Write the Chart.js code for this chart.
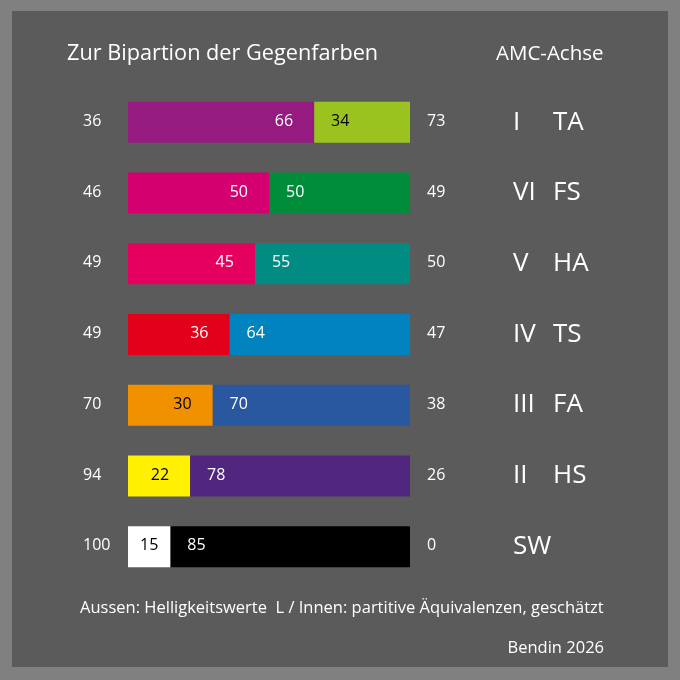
<!DOCTYPE html>
<html>
<head>
<meta charset="utf-8">
<title>Zur Bipartion der Gegenfarben</title>
<script src="https://cdn.jsdelivr.net/npm/chart.js@4.4.1/dist/chart.umd.min.js"></script>
<style>
  html, body { margin: 0; padding: 0; background: #808080; }
  canvas { display: block; }
</style>
</head>
<body>
<canvas id="bipartChart" width="680" height="680"></canvas>
<script>
// rows, top to bottom
const amcRoman = ["I", "VI", "V", "IV", "III", "II", ""];
const amcCode = ["TA", "FS", "HA", "TS", "FA", "HS", "SW"];

// outer values: lightness L
const lightLeft = [36, 46, 49, 49, 70, 94, 100];
const lightRight = [73, 49, 50, 47, 38, 26, 0];

// inner values: partitive equivalents (estimated)
const partLeft = [66, 50, 45, 36, 30, 22, 15];
const partRight = [34, 50, 55, 64, 70, 78, 85];

const colorsLeft = ["#951b81", "#d4006f", "#e5005f", "#e3001b", "#f29100", "#fff100", "#ffffff"];
const colorsRight = ["#9bc31f", "#008d3a", "#008c82", "#0083be", "#2a58a0", "#51267f", "#000000"];
const textLeft = ["#ffffff", "#ffffff", "#ffffff", "#ffffff", "#000000", "#000000", "#000000"];
const textRight = ["#000000", "#ffffff", "#ffffff", "#ffffff", "#ffffff", "#ffffff", "#ffffff"];

const FONT = "'Open Sans', 'Noto Sans', sans-serif";

function drawText(ctx, text, x, y, size, color, align) {
  ctx.font = size + "px " + FONT;
  ctx.fillStyle = color;
  ctx.textAlign = align || "left";
  ctx.textBaseline = "alphabetic";
  ctx.fillText(text, x, y);
}

// baseline so that the cap height sits roughly on the bar centre
function capBase(y, size) {
  return y + size * 0.357 - 2;
}

const backgroundPlugin = {
  id: "panelBackground",
  beforeDraw(chart) {
    const ctx = chart.ctx;
    ctx.save();
    ctx.fillStyle = "#808080";
    ctx.fillRect(0, 0, chart.width, chart.height);
    ctx.fillStyle = "#5b5b5b";
    ctx.fillRect(12, 11, 656, 656);
    ctx.restore();
  },
};

const labelPlugin = {
  id: "bipartLabels",
  afterDatasetsDraw(chart) {
    const ctx = chart.ctx;
    const yScale = chart.scales.y;
    const metaL = chart.getDatasetMeta(0);
    const metaR = chart.getDatasetMeta(1);
    ctx.save();

    // heading texts
    drawText(ctx, "Zur Bipartion der Gegenfarben", 67, 60, 21.7, "#ffffff", "left");
    drawText(ctx, "AMC-Achse", 496, 60, 20.5, "#ffffff", "left");

    amcCode.forEach((code, i) => {
      const y = yScale.getPixelForValue(i);
      const b16 = capBase(y, 16);
      const b26 = capBase(y, 26);

      // inner values on the bars
      const barL = metaL.data[i];
      const barR = metaR.data[i];
      const wL = barL.x - barL.base;
      if (wL < 60) {
        drawText(ctx, String(partLeft[i]), (barL.x + barL.base) / 2, b16, 16, textLeft[i], "center");
      } else {
        drawText(ctx, String(partLeft[i]), barL.x - 21, b16, 16, textLeft[i], "right");
      }
      drawText(ctx, String(partRight[i]), barR.base + 17, b16, 16, textRight[i], "left");

      // outer values
      drawText(ctx, String(lightLeft[i]), 83, b16, 16, "#ffffff", "left");
      drawText(ctx, String(lightRight[i]), 427, b16, 16, "#ffffff", "left");

      // AMC axis
      if (amcRoman[i]) {
        drawText(ctx, amcRoman[i], 513, b26, 26, "#ffffff", "left");
        drawText(ctx, code, 553, b26, 26, "#ffffff", "left");
      } else {
        drawText(ctx, code, 513, b26, 26, "#ffffff", "left");
      }
    });

    drawText(ctx, "Aussen: Helligkeitswerte  L / Innen: partitive \u00c4quivalenzen, gesch\u00e4tzt", 80, 613, 16.5, "#ffffff", "left");
    drawText(ctx, "Bendin 2026", 604, 653, 16.5, "#ffffff", "right");
    ctx.restore();
  },
};

const ctx = document.getElementById("bipartChart").getContext("2d");

const bipartChart = new Chart(ctx, {
  type: "bar",
  data: {
    labels: amcCode,
    datasets: [
      {
        label: "Innen links",
        data: partLeft,
        backgroundColor: colorsLeft,
        borderWidth: 0,
      },
      {
        label: "Innen rechts",
        data: partRight,
        backgroundColor: colorsRight,
        borderWidth: 0,
      },
    ],
  },
  options: {
    indexAxis: "y",
    responsive: false,
    animation: false,
    devicePixelRatio: 1,
    layout: {
      padding: { left: 128, right: 270, top: 87, bottom: 98 },
    },
    datasets: {
      bar: { barPercentage: 0.58, categoryPercentage: 1 },
    },
    scales: {
      x: { stacked: true, min: 0, max: 100, display: false },
      y: { stacked: true, display: false },
    },
    plugins: {
      legend: { display: false },
      tooltip: { enabled: false },
    },
  },
  plugins: [backgroundPlugin, labelPlugin],
});
</script>
</body>
</html>
